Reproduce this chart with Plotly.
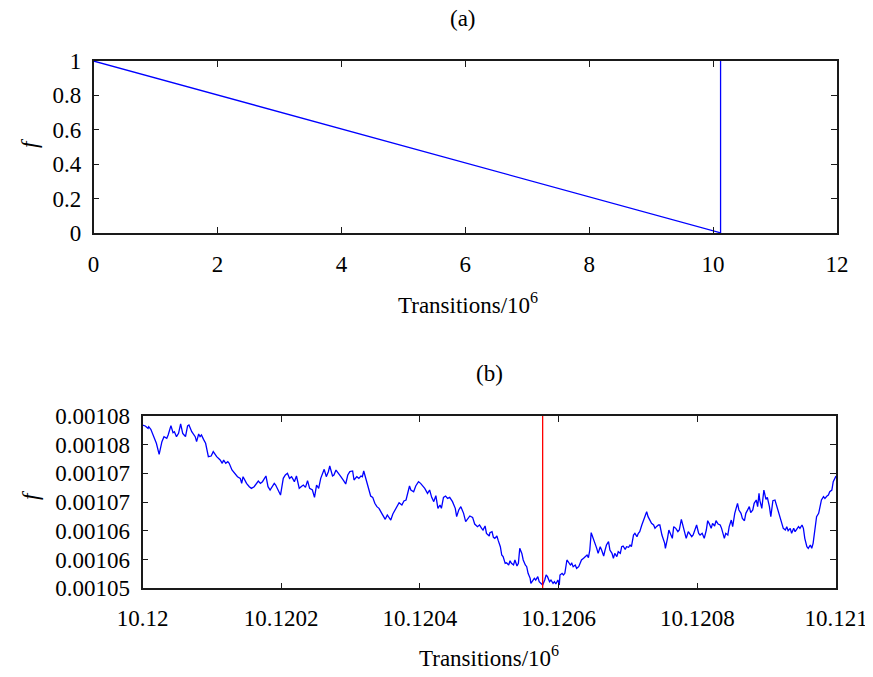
import plotly.graph_objects as go

# ---------- data ----------
# panel (a): full run
x_a = [0.0, 10.120577, 10.120577]
f_a = [1.0, 0.00105, 1.0]

# panel (b): zoom, transitions offset from 10,120,000 and f in units of 1e-8
t_base = 10120000
t_off_b = [
    0,4,8,9,12,16,18,20,24,28,31,35,37,41,44,46,49,52,55,58,60,62,65,67,71,73,76,78,81,83,
    85,88,91,95,99,102,105,107,112,115,117,120,123,125,129,133,137,141,143,145,148,150,154,157,161,164,167,170,173,178,
    181,184,186,190,192,196,199,203,206,209,212,215,219,222,226,230,232,235,238,241,
    245,248,251,254,257,262,265,268,270,274,276,279,282,286,290,293,296,299,303,305,
    309,312,315,317,319,323,326,329,332,335,338,341,345,350,353,356,358,361,364,367,
    370,374,377,380,383,385,387,391,394,398,401,405,407,411,414,417,420,423,426,429,
    431,434,437,440,443,447,451,453,456,459,463,466,469,472,476,479,483,486,489,491,494,496,500,
    501,504,506,508,511,513,516,518,520,523,525,528,530,532,535,537,540,542,544,547,
    549,552,554,556,559,560,563,565,567,570,572,575,577,580,582,584,587,589,592,594,
    596,599,601,602,605,607,609,612,614,617,619,621,624,626,629,631,633,636,638,641,
    643,645,647,650,653,655,657,660,662,665,667,669,672,674,677,679,681,684,686,689,
    691,693,696,698,701,703,705,708,710,713,715,717,720,722,725,727,729,732,734,737,
    739,741,744,746,749,753,
    754,757,759,762,764,766,769,772,774,777,781,784,787,790,792,794,797,799,802,804,
    807,810,813,815,817,820,822,825,827,830,833,835,839,841,844,846,849,851,854,858,
    860,863,865,868,870,873,875,877,880,882,885,887,889,890,893,896,899,901,904,906,
    909,912,914,917,919,922,924,927,929,931,934,936,939,941,943,946,948,951,953,955,
    958,960,963,965,967,970,972,975,977,979,982,984,987,989,991,994,996,999,1000,
]
f_b_e8 = [
    107838,107821,107780,107809,107763,107635,107549,107520,107328,107549,107635,107607,107664,107827,107705,107722,107635,107693,107856,107693,
    107664,107635,107821,107838,107722,107693,107635,107549,107682,107635,107664,107589,107520,107288,107299,107375,107317,107288,107230,107172,
    107230,107172,107201,107172,107056,106998,106940,106911,106824,106940,106853,106824,106766,106737,106766,106824,106865,106824,106853,106952,
    106766,106708,106755,106824,106795,106708,106621,106911,106969,106998,106911,106940,106853,106952,106737,106778,106795,106755,106871,106737,
    106708,106581,106795,106737,106911,107068,106940,107027,107126,106952,106969,107056,106998,106940,106871,106813,106969,107027,107039,106882,
    106940,106911,106952,106940,107039,106882,106766,106604,106581,106477,106419,106390,106303,106199,106274,106233,106187,106291,106361,106419,
    106488,106448,106517,106535,106679,106778,106708,106679,106778,106853,106824,106766,106737,106650,106708,106581,106506,106610,106390,106448,
    106390,106581,106604,106563,106581,106506,106390,106245,106361,106419,106303,106158,106216,106257,106233,106117,106071,106100,106042,106013,
    106083,105955,105909,
    105967,105984,105886,105868,105909,105828,105723,105579,105550,105434,105445,105405,105480,105434,105405,105492,105387,105434,105694,105607,
    105492,105405,105376,105260,105173,105086,105144,105173,105144,105202,105115,105086,105057,105144,105231,105202,105115,105144,105086,105115,
    105075,105144,105057,105231,105260,105231,105260,105492,105463,105405,105434,105376,105405,105347,105376,105434,105492,105521,105550,105579,
    105532,105665,105967,105868,105781,105694,105607,105723,105665,105561,105665,105752,105810,105665,105607,105521,105607,105550,105636,105607,
    105723,105735,105677,105723,105712,105752,105723,105926,105955,105897,105955,105984,106100,106158,106245,106332,106245,106158,106129,106100,
    106042,106071,106100,106100,105926,105781,
    105694,105868,106013,105926,105868,106071,106042,105984,106013,106199,106013,105868,105984,105926,105897,105926,106013,106100,105955,105926,
    105955,105868,106013,106175,106129,106042,106129,106083,106175,106117,106100,106042,105868,105955,105926,106071,106187,106071,106303,106477,
    106361,106303,106216,106175,106303,106361,106419,106314,106361,106477,106535,106419,106650,106535,106390,106708,106546,106581,106419,106245,
    106523,106535,106448,106303,106216,106129,106042,106013,106071,106001,106042,105955,106042,105984,106025,106071,106042,106100,106042,105868,
    105723,105694,105752,105694,105781,106013,106245,106303,106419,106535,106592,106563,106604,106621,106679,106708,106853,106911,106952,
]
marker_b = 10.120577  # red vertical marker (transitions / 1e6)

xticks_a = [0, 2, 4, 6, 8, 10, 12]
yticks_a = [0, 0.2, 0.4, 0.6, 0.8, 1]
yticklabels_a = ["0", "0.2", "0.4", "0.6", "0.8", "1"]
xticks_b = [10.12, 10.1202, 10.1204, 10.1206, 10.1208, 10.121]
xticklabels_b = ["10.12", "10.1202", "10.1204", "10.1206", "10.1208", "10.121"]
yticks_b = [0.00105, 0.001055, 0.00106, 0.001065, 0.00107, 0.001075, 0.00108]
yticklabels_b = ["0.00105", "0.00106", "0.00106", "0.00107", "0.00107", "0.00108", "0.00108"]

x_b = [(t_base + t) / 1e6 for t in t_off_b]
f_b = [v * 1e-8 for v in f_b_e8]

# ---------- figure ----------
FONT = "Liberation Serif"
FS = 23
W, H = 873, 677
OFF = 8  # page body margin compensation


def px(x):
    return (x - OFF) / W


def py(y):
    return 1 - (y - OFF) / H


fig = go.Figure()
fig.add_trace(go.Scatter(x=x_a, y=f_a, mode="lines", line=dict(color="#0000ff", width=1.3),
                         xaxis="x", yaxis="y", showlegend=False, hoverinfo="skip"))
fig.add_trace(go.Scatter(x=x_b, y=f_b, mode="lines", line=dict(color="#0000ff", width=1.3),
                         xaxis="x2", yaxis="y2", showlegend=False, hoverinfo="skip"))
fig.add_trace(go.Scatter(x=[marker_b, marker_b], y=[yticks_b[0], yticks_b[-1]], mode="lines",
                         line=dict(color="#ff0000", width=1.3),
                         xaxis="x2", yaxis="y2", showlegend=False, hoverinfo="skip"))

axcommon = dict(showline=True, linecolor="#1a1a1a", linewidth=1.6, mirror="ticks",
                ticks="inside", ticklen=6, tickwidth=1.2, tickcolor="#1a1a1a", automargin=False,
                showgrid=False, zeroline=False, tickfont=dict(family=FONT, size=FS, color="#000"))


def ann(text, x, y, angle=0):
    return dict(text=text, x=px(x), y=py(y), xref="paper", yref="paper", showarrow=False,
                xanchor="center", yanchor="middle", textangle=angle,
                font=dict(family=FONT, size=FS, color="#000"))


fig.update_layout(
    template="none",
    width=W, height=H, margin=dict(l=0, r=0, t=0, b=0, autoexpand=False),
    paper_bgcolor="white", plot_bgcolor="white",
    font=dict(family=FONT, size=FS, color="#000"),
    xaxis=dict(domain=[px(93.6), px(837)], range=[0, 12], tickvals=xticks_a,
               ticktext=[str(v) for v in xticks_a], anchor="y", ticklabelstandoff=10, **axcommon),
    yaxis=dict(domain=[py(233), py(61)], range=[0, 1], tickvals=yticks_a,
               ticktext=yticklabels_a, anchor="x", ticklabelstandoff=6, **axcommon),
    xaxis2=dict(domain=[px(142.5), px(836)], range=[10.12, 10.121], tickvals=xticks_b,
                ticktext=xticklabels_b, anchor="y2", ticklabelstandoff=8, **axcommon),
    yaxis2=dict(domain=[py(588.3), py(415.7)], range=[0.00105, 0.00108], tickvals=yticks_b,
                ticktext=yticklabels_b, anchor="x2", ticklabelstandoff=6, **axcommon),
    annotations=[
        ann("(a)", 463, 18),
        ann("(b)", 489, 373),
        ann("Transitions/10<sup>6</sup>", 468, 303),
        ann("Transitions/10<sup>6</sup>", 489, 656),
        ann("<i>f</i>", 30, 143, -90),
        ann("<i>f</i>", 30, 495, -90),
    ],
)

fig.write_html("out.html")
